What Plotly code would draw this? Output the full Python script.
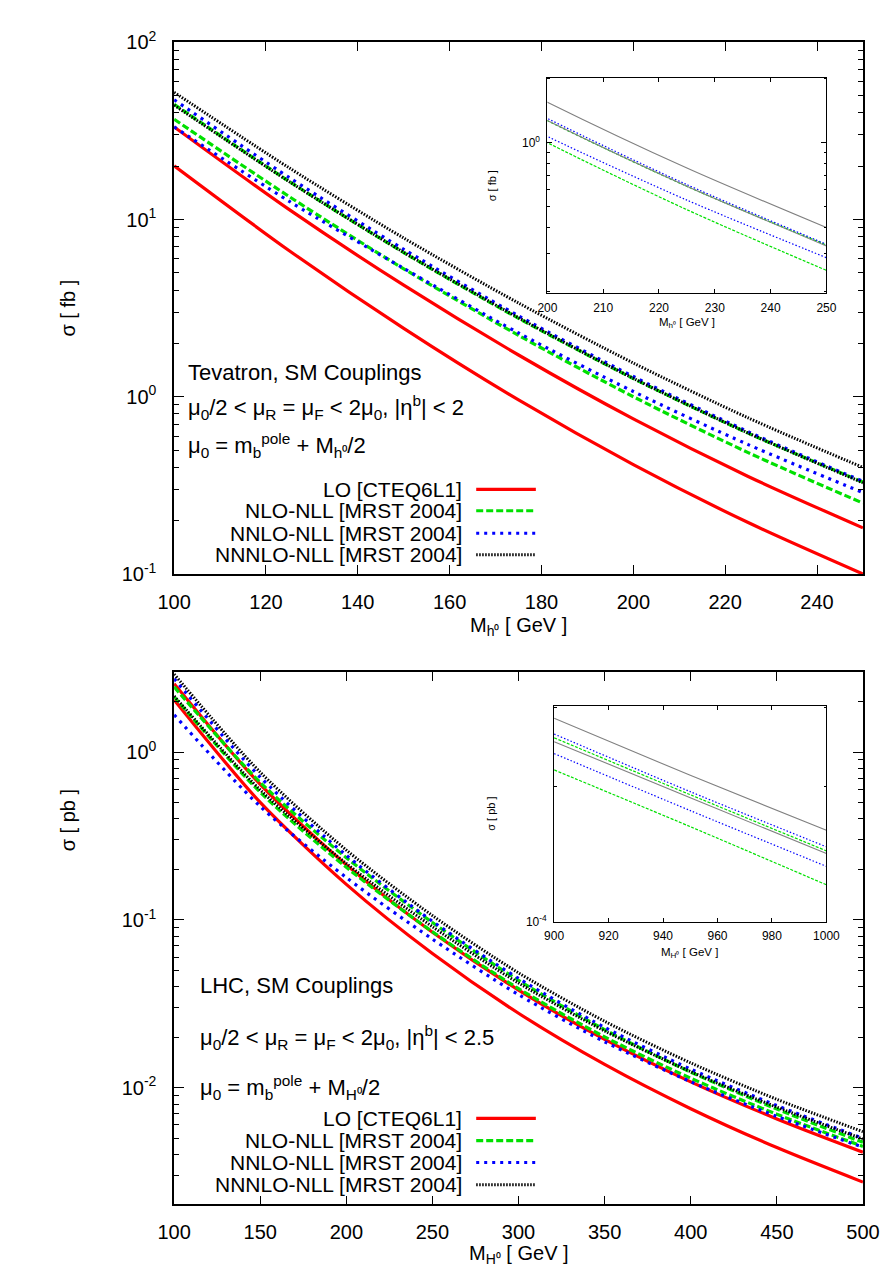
import plotly.graph_objects as go

# ---------------- data ----------------
# Tevatron (top panel), sigma in fb
tev_mass = [100, 125, 150, 175, 200, 225, 250]
tev_lo_lower = [20.1, 6.69, 2.43, 0.959, 0.414, 0.195, 0.100]
tev_lo_upper = [33.3, 11.4, 4.26, 1.72, 0.750, 0.355, 0.182]
tev_nlo_lower = [36.8, 13.5, 5.27, 2.22, 1.00, 0.484, 0.251]
tev_nlo_upper = [44.7, 16.45, 6.51, 2.77, 1.268, 0.623, 0.330]
tev_nnlo_lower = [33.3, 12.7, 5.30, 2.29, 1.07, 0.537, 0.288]
tev_nnlo_upper = [47.4, 17.3, 6.79, 2.86, 1.30, 0.635, 0.333]
tev_nnnlo_lower = [44.2, 16.4, 6.53, 2.79, 1.27, 0.624, 0.327]
tev_nnnlo_upper = [52.2, 19.6, 7.86, 3.38, 1.55, 0.760, 0.399]

# LHC (bottom panel), sigma in pb
lhc_mass = [100, 150, 200, 250, 300, 350, 400, 450, 500]
lhc_lo_lower = [2.05, 0.502, 0.163, 0.0631, 0.0278, 0.01377, 0.00750, 0.00440, 0.00274]
lhc_lo_upper = [2.56, 0.643, 0.213, 0.0845, 0.0382, 0.0194, 0.01084, 0.00652, 0.00413]
lhc_nlo_lower = [2.14, 0.577, 0.206, 0.0851, 0.0390, 0.0201, 0.01140, 0.00695, 0.00447]
lhc_nlo_upper = [2.45, 0.661, 0.235, 0.0966, 0.0437, 0.0222, 0.01239, 0.00746, 0.00473]
lhc_nnlo_lower = [1.67, 0.475, 0.179, 0.0769, 0.0359, 0.0188, 0.01086, 0.00675, 0.00442]
lhc_nnlo_upper = [2.74, 0.710, 0.243, 0.0982, 0.0448, 0.0229, 0.01291, 0.00783, 0.00500]
lhc_nnnlo_lower = [2.16, 0.596, 0.217, 0.0912, 0.0421, 0.0218, 0.01247, 0.00766, 0.00495]
lhc_nnnlo_upper = [2.92, 0.760, 0.261, 0.1062, 0.0484, 0.0249, 0.01406, 0.00853, 0.00547]

# LHC high-mass inset, sigma in pb
hi_mass = [900, 950, 1000]
hi_nlo_lower = [2.18e-4, 1.63e-4, 1.21e-4]
hi_nlo_upper = [2.57e-4, 1.92e-4, 1.44e-4]
hi_nnlo_lower = [2.37e-4, 1.77e-4, 1.33e-4]
hi_nnlo_upper = [2.62e-4, 1.95e-4, 1.47e-4]
hi_nnnlo_lower = [2.52e-4, 1.89e-4, 1.42e-4]
hi_nnnlo_upper = [2.84e-4, 2.12e-4, 1.60e-4]

legend_labels = ["LO [CTEQ6L1]", "NLO-NLL [MRST 2004]", "NNLO-NLL [MRST 2004]", "NNNLO-NLL [MRST 2004]"]
tev_xticks = [100, 120, 140, 160, 180, 200, 220, 240]
lhc_xticks = [100, 150, 200, 250, 300, 350, 400, 450, 500]
tev_inset_xticks = [200, 210, 220, 230, 240, 250]
lhc_inset_xticks = [900, 920, 940, 960, 980, 1000]

# ---------------- styles ----------------
W, H = 896, 1275
FONT = "Liberation Sans, Arial, Helvetica, sans-serif"
RED, GREEN, BLUE, BLACK = "#ff0000", "#00e000", "#0000ff", "#000000"
main_styles = [
    dict(color=RED, width=3.2, dash="solid"),
    dict(color=GREEN, width=3.2, dash="7px,3px"),
    dict(color=BLUE, width=3.2, dash="3px,5px"),
    dict(color=BLACK, width=3, dash="1.5px,1.5px"),
]
inset_styles = {
    "nlo": dict(color=GREEN, width=1.2, dash="3px,1.5px"),
    "nnlo": dict(color=BLUE, width=1.2, dash="1.5px,2px"),
    "nnnlo": dict(color="#808080", width=1.1, dash="solid"),
}

def fx(p):
    return p / W

def fy(p):
    return 1 - p / H

fig = go.Figure()

def add_pair(x, lo, hi, style, xa, ya):
    for yv in (lo, hi):
        fig.add_trace(go.Scatter(x=x, y=yv, mode="lines", line=dict(shape="spline", smoothing=0.8, **style),
                                 xaxis=xa, yaxis=ya, hoverinfo="skip", showlegend=False))

# Top main
add_pair(tev_mass, tev_lo_lower, tev_lo_upper, main_styles[0], "x", "y")
add_pair(tev_mass, tev_nlo_lower, tev_nlo_upper, main_styles[1], "x", "y")
add_pair(tev_mass, tev_nnlo_lower, tev_nnlo_upper, main_styles[2], "x", "y")
add_pair(tev_mass, tev_nnnlo_lower, tev_nnnlo_upper, main_styles[3], "x", "y")
# Top inset
add_pair(tev_mass, tev_nlo_lower, tev_nlo_upper, inset_styles["nlo"], "x2", "y2")
add_pair(tev_mass, tev_nnlo_lower, tev_nnlo_upper, inset_styles["nnlo"], "x2", "y2")
add_pair(tev_mass, tev_nnnlo_lower, tev_nnnlo_upper, inset_styles["nnnlo"], "x2", "y2")
# Bottom main
add_pair(lhc_mass, lhc_lo_lower, lhc_lo_upper, main_styles[0], "x3", "y3")
add_pair(lhc_mass, lhc_nlo_lower, lhc_nlo_upper, main_styles[1], "x3", "y3")
add_pair(lhc_mass, lhc_nnlo_lower, lhc_nnlo_upper, main_styles[2], "x3", "y3")
add_pair(lhc_mass, lhc_nnnlo_lower, lhc_nnnlo_upper, main_styles[3], "x3", "y3")
# Bottom inset
add_pair(hi_mass, hi_nlo_lower, hi_nlo_upper, inset_styles["nlo"], "x4", "y4")
add_pair(hi_mass, hi_nnlo_lower, hi_nnlo_upper, inset_styles["nnlo"], "x4", "y4")
add_pair(hi_mass, hi_nnnlo_lower, hi_nnnlo_upper, inset_styles["nnnlo"], "x4", "y4")

def sup_label(v):
    import math
    e = int(round(math.log10(v)))
    return "10<sup>%d</sup>" % e

def minor_vals(lo_exp, hi_exp, vmin, vmax):
    out = []
    for e in range(lo_exp, hi_exp + 1):
        for k in range(2, 10):
            v = k * 10 ** e
            if vmin <= v <= vmax:
                out.append(v)
    return out

def xaxis_cfg(dom, rng, ticks, size, ticklen, lw, anchor, standoff):
    return dict(domain=dom, range=rng, tickmode="array", tickvals=ticks, ticktext=[str(t) for t in ticks],
                ticks="inside", ticklen=ticklen, tickwidth=1, tickcolor="black", mirror="ticks",
                showline=True, linecolor="black", linewidth=lw, showgrid=False, zeroline=False,
                tickfont=dict(size=size, family=FONT, color="black"), anchor=anchor, ticklabelstandoff=standoff)

def yaxis_cfg(dom, rng, majors, minors, size, ticklen, lw, anchor, standoff):
    return dict(domain=dom, type="log", range=rng, tickmode="array", tickvals=majors,
                ticktext=[sup_label(v) for v in majors], ticks="inside", ticklen=ticklen, tickwidth=1,
                tickcolor="black", mirror="ticks", showline=True, linecolor="black", linewidth=lw,
                showgrid=False, zeroline=False, tickfont=dict(size=size, family=FONT, color="black"),
                anchor=anchor, ticklabelstandoff=standoff,
                minor=dict(tickmode="array", tickvals=minors, ticks="inside", ticklen=ticklen * 0.5,
                           tickwidth=1, tickcolor="black", showgrid=False))

fig.update_layout(
    width=W, height=H, margin=dict(l=0, r=0, t=0, b=0),
    paper_bgcolor="white", plot_bgcolor="white", showlegend=False,
    font=dict(family=FONT, size=21, color="black"),
    xaxis=xaxis_cfg([fx(155), fx(871)], [100, 250], tev_xticks, 20, 9, 1.5, "y", 9),
    yaxis=yaxis_cfg([fy(563), fy(20.7)], [-1, 2], [0.1, 1, 10, 100], minor_vals(-1, 1, 0.1, 100), 20, 10, 1.5, "x", 12),
    xaxis2=xaxis_cfg([fx(543), fx(833)], [200, 250], tev_inset_xticks, 12, 4, 1, "y2", 3),
    yaxis2=yaxis_cfg([fy(276.7), fy(56.7)], [-0.708, 0.306], [1], minor_vals(-1, 0, 0.2, 2.02), 12, 5, 1, "x2", 4),
    xaxis3=xaxis_cfg([fx(155), fx(871)], [100, 500], lhc_xticks, 20, 9, 1.5, "y3", 9),
    yaxis3=yaxis_cfg([fy(1206), fy(663)], [-2.695, 0.478], [0.01, 0.1, 1], minor_vals(-3, 0, 0.002, 3.0), 20, 10, 1.5, "x3", 12),
    xaxis4=xaxis_cfg([fx(550), fx(833)], [900, 1000], lhc_inset_xticks, 12, 4, 1, "y4", 3),
    yaxis4=yaxis_cfg([fy(918), fy(698)], [-4, -3.52], [1e-4], minor_vals(-4, -4, 1e-4, 3.1e-4), 12, 5, 1, "x4", 4),
)

ann = []
def text(s, x, y, size=22, xanchor="left", angle=0):
    ann.append(dict(text=s, x=fx(x), y=fy(y), xref="paper", yref="paper", showarrow=False,
                    xanchor=xanchor, yanchor="middle", textangle=angle, borderpad=0,
                    font=dict(size=size, family=FONT, color="black")))

# axis titles
text("M<sub>h⁰</sub> [ GeV ]", 513, 617, 20, "center")
text("M<sub>H⁰</sub> [ GeV ]", 513, 1257, 20, "center")
text("σ [ fb ]", 45, 292, 20, "center", -90)
text("σ [ pb ]", 45, 814, 20, "center", -90)
text("M<sub>h⁰</sub> [ GeV ]", 688, 307, 11.5, "center")
text("M<sub>H⁰</sub> [ GeV ]", 691, 950, 11.5, "center")
text("σ [ fb ]", 485, 167, 11, "center", -90)
text("σ [ pb ]", 485, 808, 11, "center", -90)

# panel annotations
text("Tevatron, SM Couplings", 168, 357)
text("μ<sub>0</sub>/2 &lt; μ<sub>R</sub> = μ<sub>F</sub> &lt; 2μ<sub>0</sub>, |η<sup>b</sup>| &lt; 2", 168, 393)
text("μ<sub>0</sub> = m<sub>b</sub><sup>pole</sup> + M<sub>h⁰</sub>/2", 168, 432)
text("LHC, SM Couplings", 181, 983)
text("μ<sub>0</sub>/2 &lt; μ<sub>R</sub> = μ<sub>F</sub> &lt; 2μ<sub>0</sub>, |η<sup>b</sup>| &lt; 2.5", 181, 1036)
text("μ<sub>0</sub> = m<sub>b</sub><sup>pole</sup> + M<sub>H⁰</sub>/2", 181, 1087)

# legends (text right, sample line)
shapes = []
for rows in ([476.7, 498.5, 521.5, 543.3], [1118.3, 1141, 1163.3, 1186]):
    for lab, yy, st in zip(legend_labels, rows, main_styles):
        text(lab, 455, yy, 21, "right")
        shapes.append(dict(type="line", xref="paper", yref="paper", x0=fx(469), x1=fx(531),
                           y0=fy(yy), y1=fy(yy), line=dict(color=st["color"], width=st["width"], dash=st["dash"])))

fig.update_layout(annotations=ann, shapes=shapes)
fig.write_html("out.html")
